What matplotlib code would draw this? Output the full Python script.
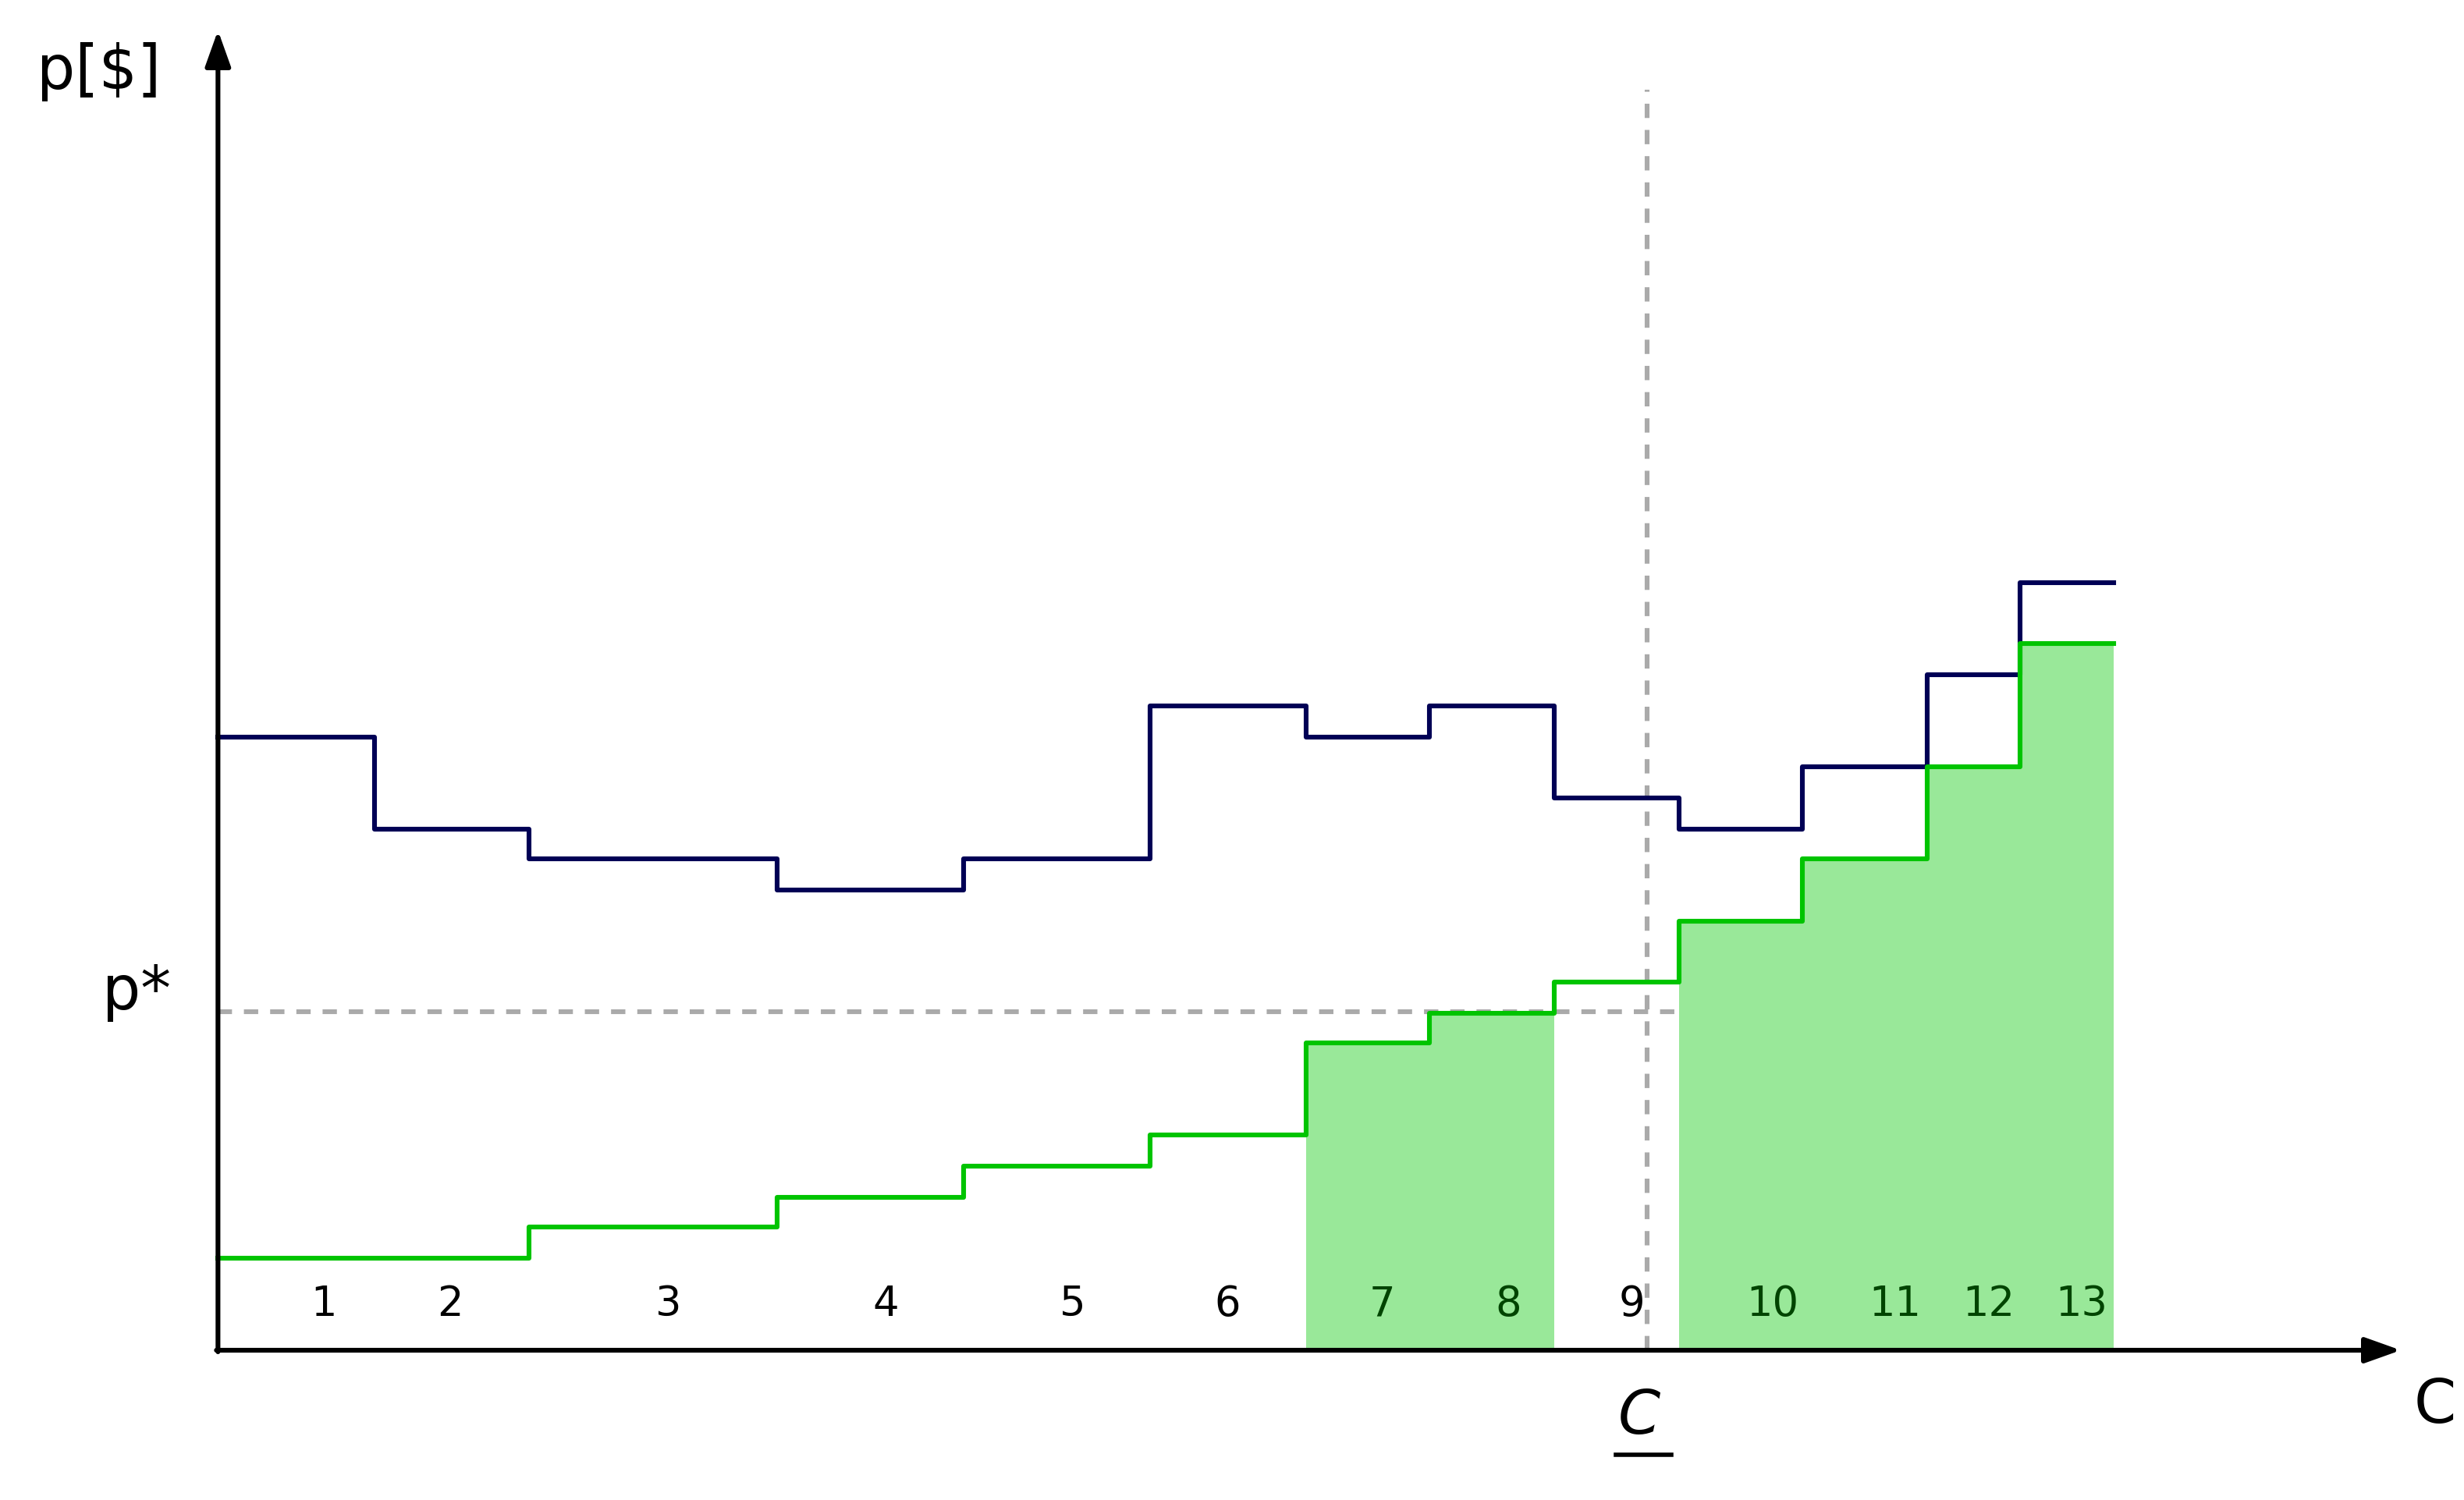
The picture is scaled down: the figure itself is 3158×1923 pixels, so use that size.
import matplotlib.pyplot as plt

# step edges (capacity axis) and price levels for each unit
edges = [0, 99, 197, 354, 472, 590, 689, 767, 846, 925, 1003, 1082, 1141, 1200]
bid_blue = [393, 334, 315, 295, 315, 413, 393, 413, 354, 334, 374, 433, 492]
cost_green = [59, 59, 79, 98, 118, 138, 197, 216, 236, 275, 315, 374, 453]
unit_labels = [str(i) for i in range(1, 14)]
label_x = [67, 147, 285, 423, 541, 639, 737, 817, 895, 984, 1062, 1121, 1180]
accepted = [7, 8, 10, 11, 12, 13]
p_star = 217
c_under = 905

fig = plt.figure(figsize=(15.79, 9.62), dpi=200)
ax = fig.add_axes([0, 0, 1, 1])
ax.set_xlim(-138, 1560 - 138)
ax.set_ylim(-96, 866)
ax.axis('off')

def steps(vals):
    xs, ys = [], []
    for i, v in enumerate(vals):
        xs += [edges[i], edges[i + 1]]
        ys += [v, v]
    return xs, ys

for i, v in enumerate(cost_green):
    if i + 1 in accepted:
        ax.fill_between([edges[i], edges[i + 1]], 0, v, color='#99e899', lw=0, zorder=1)

ax.plot([0, 925], [p_star, p_star], ls=(0, (3, 2.5)), color='#aaaaaa', lw=2.2, zorder=2)
ax.plot([c_under, c_under], [0, 808], ls=(0, (3, 2.5)), color='#aaaaaa', lw=2.2, zorder=2)

xs, ys = steps(bid_blue)
ax.plot(xs, ys, color='#000055', lw=2.2, zorder=3)
xs, ys = steps(cost_green)
ax.plot(xs, ys, color='#00c400', lw=2.2, zorder=3)

for i, (lab, x) in enumerate(zip(unit_labels, label_x)):
    col = '#004400' if i + 1 in accepted else 'black'
    ax.text(x, 30, lab, ha='center', va='center', fontsize=19, color=col, zorder=4)

# axes with arrows
ax.annotate('', xy=(1382, 0), xytext=(-1, 0),
            arrowprops=dict(arrowstyle='-|>,head_length=1.4,head_width=0.5', color='black', lw=2.2, shrinkA=0, shrinkB=0))
ax.annotate('', xy=(0, 846), xytext=(0, -1),
            arrowprops=dict(arrowstyle='-|>,head_length=1.4,head_width=0.5', color='black', lw=2.2, shrinkA=0, shrinkB=0))

ax.text(-115, 820, 'p[$]', fontsize=28, ha='left', va='center')
ax.text(-30, 230, 'p*', fontsize=28, ha='right', va='center')
ax.text(1390, -35, 'C', fontsize=28, ha='left', va='center')
ax.text(c_under - 5, -42, 'C', fontsize=28, style='italic', ha='center', va='center')
ax.plot([c_under - 20, c_under + 15], [-67, -67], color='black', lw=2)

fig.savefig('out.png', dpi=200)
